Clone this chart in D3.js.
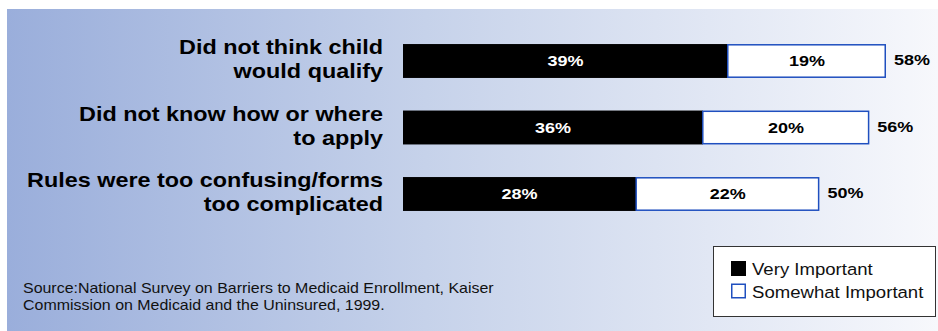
<!DOCTYPE html>
<html>
<head>
<meta charset="utf-8">
<script src="https://cdn.jsdelivr.net/npm/d3@7"></script>
<style>
  body { margin: 0; background: #fff; }
  svg { display: block; }
</style>
</head>
<body>
<script>
const categories = [
  ['Did not think child', 'would qualify'],
  ['Did not know how or where', 'to apply'],
  ['Rules were too confusing/forms', 'too complicated']
];
const veryImportant = [39, 36, 28];
const somewhatImportant = [19, 20, 22];
const seriesNames = ['Very Important', 'Somewhat Important'];
const sourceLines = [
  'Source:National Survey on Barriers to Medicaid Enrollment, Kaiser',
  'Commission on Medicaid and the Uninsured, 1999.'
];

const width = 938, height = 331;
const blue = '#1f4fbf';
const stretch = 1.17; // glyphs in the original are wider than Arial

const svg = d3.select('body').append('svg')
  .attr('width', width)
  .attr('height', height);

const grad = svg.append('defs').append('linearGradient')
  .attr('id', 'bg')
  .attr('x1', '0%').attr('x2', '100%').attr('y1', '0%').attr('y2', '0%');
grad.append('stop').attr('offset', '0%').attr('stop-color', '#9aaedb');
grad.append('stop').attr('offset', '45%').attr('stop-color', '#c6d2ea');
grad.append('stop').attr('offset', '100%').attr('stop-color', '#f7f8fc');

svg.append('rect')
  .attr('x', 7).attr('y', 9)
  .attr('width', width - 7).attr('height', height - 9)
  .attr('fill', 'url(#bg)');

const keys = categories.map((c, i) => i);
const x = d3.scaleLinear().domain([0, 58]).range([403, 886]);
const y = d3.scaleBand().domain(keys).range([27.75, 227.25])
  .paddingInner(0.49).paddingOuter(0.245);

const rows = keys.map(i => ({
  i: i,
  lines: categories[i],
  a: veryImportant[i],
  b: somewhatImportant[i],
  total: veryImportant[i] + somewhatImportant[i]
}));

const font = 'Liberation Sans, Arial, Helvetica, sans-serif';

// stretched bold text helper
function stretchedText(g, tx, ty, str, size, anchor, fill, k) {
  g.append('text')
    .attr('transform', `translate(${tx},${ty}) scale(${k},1)`)
    .attr('text-anchor', anchor)
    .attr('font-family', font)
    .attr('font-weight', 'bold')
    .attr('font-size', size)
    .attr('fill', fill)
    .text(str);
}

const row = svg.selectAll('.row')
  .data(rows)
  .enter()
  .append('g')
  .attr('class', 'row');

row.append('rect')
  .attr('x', x(0))
  .attr('y', d => y(d.i))
  .attr('width', d => x(d.a) - x(0))
  .attr('height', y.bandwidth())
  .attr('fill', '#000');

row.append('rect')
  .attr('x', d => x(d.a))
  .attr('y', d => y(d.i) + 0.75)
  .attr('width', d => x(d.total) - x(d.a) - 0.75)
  .attr('height', y.bandwidth() - 1.5)
  .attr('fill', '#fff')
  .attr('stroke', blue)
  .attr('stroke-width', 1.5);

row.each(function(d) {
  const g = d3.select(this);
  const top = y(d.i);
  const mid = top + y.bandwidth() / 2 + 5;
  stretchedText(g, (x(0) + x(d.a)) / 2, mid, d.a + '%', 15, 'middle', '#fff', 1.2);
  stretchedText(g, (x(d.a) + x(d.total)) / 2, mid, d.b + '%', 15, 'middle', '#000', 1.2);
  stretchedText(g, x(d.total) + 8, mid - 1, d.total + '%', 15, 'start', '#000', 1.2);
  stretchedText(g, 383, top + 10, d.lines[0], 20, 'end', '#000', stretch);
  stretchedText(g, 383, top + 34, d.lines[1], 20, 'end', '#000', stretch);
});

// source note
svg.selectAll('.source')
  .data(sourceLines)
  .enter()
  .append('text')
  .attr('class', 'source')
  .attr('transform', (d, i) => `translate(23,${293 + i * 17}) scale(1.14,1)`)
  .attr('font-family', font)
  .attr('font-size', 14)
  .attr('fill', '#111')
  .text(d => d);

// legend
const legend = svg.append('g');
legend.append('rect')
  .attr('x', 713.5).attr('y', 246.5)
  .attr('width', 222).attr('height', 70)
  .attr('fill', '#fff')
  .attr('stroke', '#333')
  .attr('stroke-width', 1);

const item = legend.selectAll('.item')
  .data(seriesNames)
  .enter()
  .append('g')
  .attr('class', 'item')
  .attr('transform', (d, i) => `translate(731,${261 + i * 22.5})`);

item.append('rect')
  .attr('x', (d, i) => i ? 0.75 : 0)
  .attr('y', (d, i) => i ? 0.75 : 0)
  .attr('width', (d, i) => i ? 13.5 : 15)
  .attr('height', (d, i) => i ? 13.5 : 15)
  .attr('fill', (d, i) => i ? '#fff' : '#000')
  .attr('stroke', (d, i) => i ? blue : 'none')
  .attr('stroke-width', 1.5);

item.append('text')
  .attr('transform', 'translate(21,14) scale(1.14,1)')
  .attr('font-family', font)
  .attr('font-size', 16.3)
  .attr('fill', '#111')
  .text(d => d);
</script>
</body>
</html>
